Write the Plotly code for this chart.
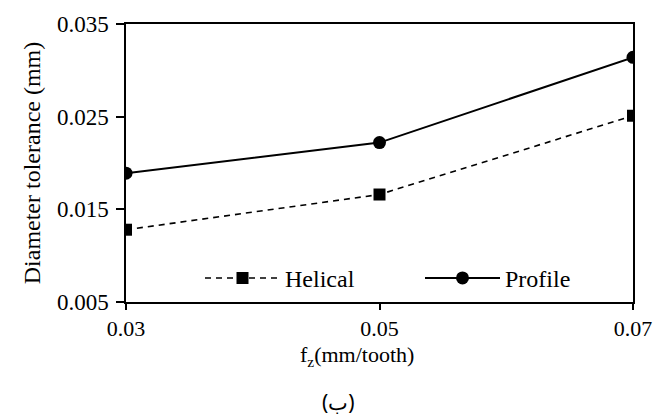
import plotly.graph_objects as go

fz = [0.03, 0.05, 0.07]
helical = [0.0128, 0.0166, 0.0251]
profile = [0.0189, 0.0222, 0.0314]
x_ticks = [0.03, 0.05, 0.07]
y_ticks = [0.005, 0.015, 0.025, 0.035]

serif = "Liberation Serif"
PL, PR, PT, PB = 126, 633, 20, 302
W, H = 667, 419
pw, ph = PR - PL, PB - PT

fig = go.Figure()
fig.add_trace(go.Scatter(x=fz, y=helical, name="Helical", mode="lines+markers",
                         line=dict(color="black", width=1.6, dash="6px,5px"),
                         marker=dict(symbol="square", size=12, color="black")))
fig.add_trace(go.Scatter(x=fz, y=profile, name="Profile", mode="lines+markers",
                         line=dict(color="black", width=2),
                         marker=dict(symbol="circle", size=13, color="black")))

fig.update_layout(
    width=W, height=H,
    margin=dict(l=PL, r=W - PR, t=PT, b=H - PB),
    plot_bgcolor="white", paper_bgcolor="white",
    font=dict(family=serif, size=22, color="black"),
    showlegend=True,
    legend=dict(orientation="h", x=(420 - PL) / pw, y=(PB - 278) / ph, xanchor="center", yanchor="middle",
                itemwidth=75, entrywidth=130, font=dict(size=24, family=serif, color="black"),
                bgcolor="rgba(0,0,0,0)", traceorder="normal", tracegroupgap=0),
    xaxis=dict(range=[0.03, 0.07], tickvals=x_ticks, ticktext=[f"{v:.2f}" for v in x_ticks],
               showline=True, mirror=True, linecolor="black", linewidth=1.5, ticks="outside",
               ticklen=6, tickwidth=1.5, tickcolor="black", showgrid=False, zeroline=False,
               ticklabelstandoff=0,
               tickfont=dict(size=22, family=serif, color="black")),
    yaxis=dict(range=[0.005, 0.035], tickvals=y_ticks, ticktext=[f"{v:.3f}" for v in y_ticks],
               showline=True, mirror=True, linecolor="black", linewidth=1.5, ticks="outside",
               ticklen=8, tickwidth=1.5, tickcolor="black", showgrid=False, zeroline=False,
               ticklabelstandoff=3,
               tickfont=dict(size=23, family=serif, color="black"),
               title=dict(text="Diameter tolerance (mm)", standoff=10,
                          font=dict(size=24, family=serif, color="black"))),
)
fig.add_annotation(text="f<sub>z</sub>(mm/tooth)", x=(357 - PL) / pw, y=-(357 - PB) / ph,
                   xref="paper", yref="paper", xanchor="center", yanchor="middle", showarrow=False,
                   font=dict(family=serif, size=22, color="black"))
fig.add_annotation(text="(ب)", x=(338 - PL) / pw, y=-(403 - PB) / ph, xref="paper", yref="paper",
                   xanchor="center", yanchor="middle", showarrow=False,
                   font=dict(family="Noto Sans", size=21, color="black"))
fig.write_html("out.html", config={"displayModeBar": False},
               post_script="document.body.style.margin='0px';")
